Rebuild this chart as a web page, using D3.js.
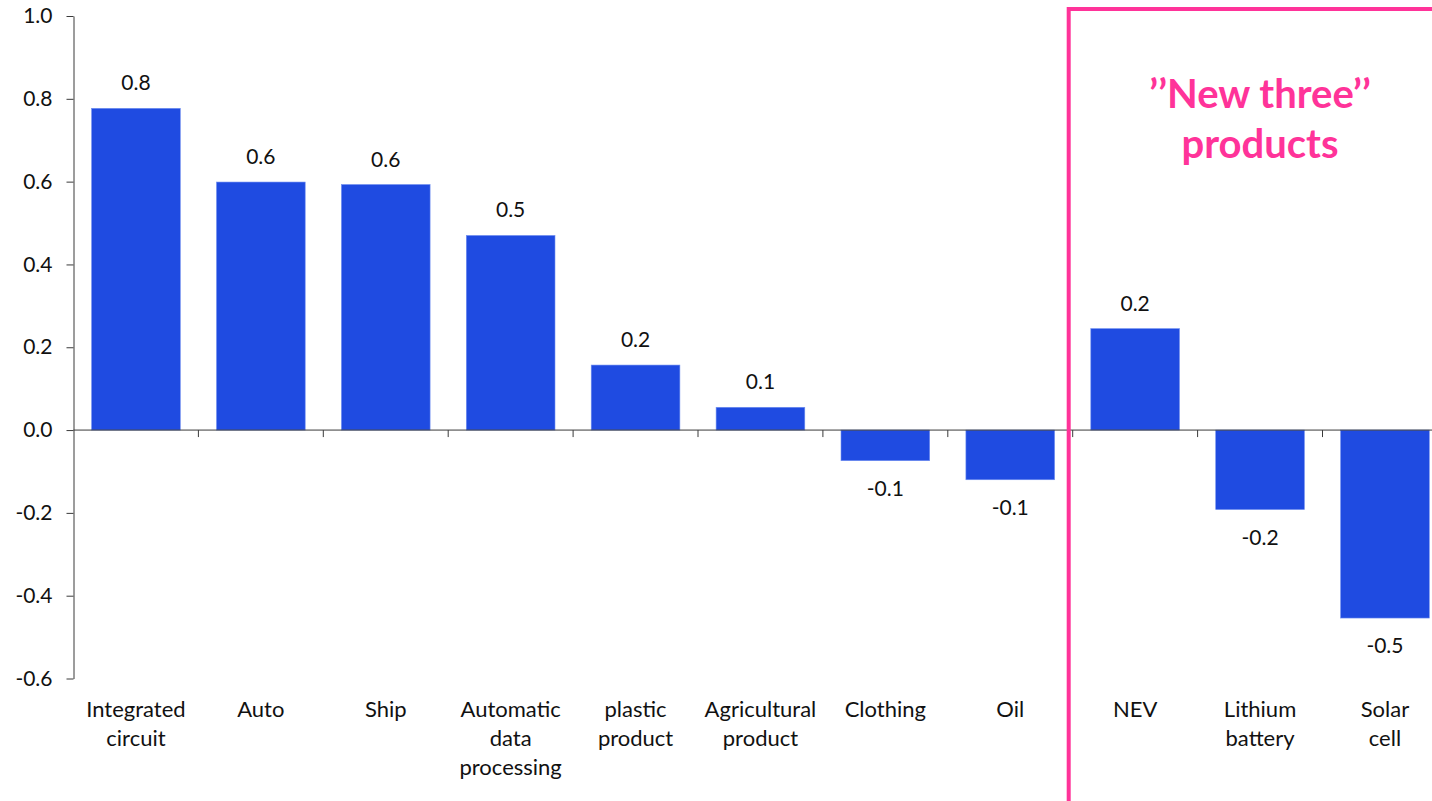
<!DOCTYPE html>
<html>
<head>
<meta charset="utf-8">
<script src="https://cdn.jsdelivr.net/npm/d3@7"></script>
<style>
  html, body { margin: 0; padding: 0; background: #fff; overflow: hidden; }
  svg { display: block; }
  text { font-family: Lato, "Open Sans", sans-serif; fill: #111; }
</style>
</head>
<body>
<svg id="chart" width="1432" height="801"></svg>
<script>
// Product categories, each label split into its display lines
const categories = [
  "Integrated circuit", "Auto", "Ship", "Automatic data processing",
  "plastic product", "Agricultural product", "Clothing", "Oil",
  "NEV", "Lithium battery", "Solar cell"
];
const labelLines = [
  ["Integrated", "circuit"], ["Auto"], ["Ship"], ["Automatic", "data", "processing"],
  ["plastic", "product"], ["Agricultural", "product"], ["Clothing"], ["Oil"],
  ["NEV"], ["Lithium", "battery"], ["Solar", "cell"]
];
const values = [0.777, 0.599, 0.593, 0.470, 0.157, 0.055, -0.074, -0.120, 0.245, -0.192, -0.454];
const yTicks = [-0.6, -0.4, -0.2, 0.0, 0.2, 0.4, 0.6, 0.8, 1.0];
// The last three categories form the highlighted group
const highlighted = ["NEV", "Lithium battery", "Solar cell"];
const highlightTitle = ["\u2019\u2019New three\u2019\u2019", "products"];

const svg = d3.select("#chart");
const plotLeft = 73.5, step = 124.9;
const plotTop = 16, plotBottom = 678.5;

const x = d3.scaleBand()
  .domain(categories)
  .range([plotLeft, plotLeft + step * categories.length])
  .paddingInner(0.29)
  .paddingOuter(0.145);

const y = d3.scaleLinear().domain([-0.6, 1.0]).range([plotBottom, plotTop]);

const axisColor = "#3a3a3a";
// Plain hyphen for negative numbers
const locale = d3.formatLocale({ decimal: ".", thousands: ",", grouping: [3], currency: ["", ""], minus: "-" });
const fmt = locale.format(".1f");

// Bars
svg.append("g").selectAll("rect")
  .data(values)
  .join("rect")
  .attr("x", (d, i) => x(categories[i]))
  .attr("width", x.bandwidth())
  .attr("y", d => y(Math.max(0, d)))
  .attr("height", d => Math.abs(y(d) - y(0)))
  .attr("fill", "#1F4BE1")
  .attr("stroke", "#6f8ef0")
  .attr("stroke-width", 0.6);

// Value labels, rounded to one decimal
svg.append("g").selectAll("text")
  .data(values)
  .join("text")
  .attr("x", (d, i) => x(categories[i]) + x.bandwidth() / 2)
  .attr("y", d => d >= 0 ? y(d) - 18 : y(d) + 35)
  .attr("text-anchor", "middle")
  .attr("font-size", 21)
  .text(d => fmt(d));

// Y axis
const yAxis = d3.axisLeft(y)
  .tickValues(yTicks)
  .tickFormat(fmt)
  .tickSize(7)
  .tickSizeOuter(0)
  .tickPadding(14);
const gy = svg.append("g").attr("transform", `translate(${plotLeft},0)`).call(yAxis);
gy.select(".domain").attr("stroke", axisColor);
gy.selectAll(".tick line").attr("stroke", axisColor);
gy.selectAll(".tick text")
  .attr("font-size", 21)
  .attr("font-family", "Lato, 'Open Sans', sans-serif")
  .attr("fill", "#111");

// Zero baseline with category separator ticks
const boundaries = d3.range(categories.length + 1).map(i => plotLeft + i * x.step());
svg.append("line")
  .attr("x1", plotLeft).attr("x2", boundaries[boundaries.length - 1])
  .attr("y1", y(0)).attr("y2", y(0))
  .attr("stroke", axisColor);
svg.append("g").selectAll("line")
  .data(boundaries.slice(1))
  .join("line")
  .attr("x1", d => d).attr("x2", d => d)
  .attr("y1", y(0)).attr("y2", y(0) + 7)
  .attr("stroke", axisColor);

// Category labels below the plot
const catG = svg.append("g").selectAll("text")
  .data(labelLines)
  .join("text")
  .attr("x", (d, i) => x(categories[i]) + x.bandwidth() / 2)
  .attr("y", 717)
  .attr("text-anchor", "middle")
  .attr("font-size", 22);
catG.selectAll("tspan")
  .data(d => d)
  .join("tspan")
  .attr("x", function () { return d3.select(this.parentNode).attr("x"); })
  .attr("dy", (d, i) => i === 0 ? 0 : 29)
  .text(d => d);

// Highlight frame around the last group
const firstHi = x(highlighted[0]) - (x.step() - x.bandwidth()) / 2;
svg.append("rect")
  .attr("x", firstHi - 4)
  .attr("y", 9)
  .attr("width", 500)
  .attr("height", 900)
  .attr("fill", "none")
  .attr("stroke", "#FF3399")
  .attr("stroke-width", 4);

const hiCenter = (x(highlighted[0]) + x(highlighted[2]) + x.bandwidth()) / 2;
svg.append("text")
  .attr("x", hiCenter)
  .attr("y", 108)
  .attr("text-anchor", "middle")
  .attr("font-size", 40)
  .attr("font-weight", "bold")
  .style("fill", "#FF3399")
  .selectAll("tspan")
  .data(highlightTitle)
  .join("tspan")
  .attr("x", hiCenter)
  .attr("dy", (d, i) => i === 0 ? 0 : 50)
  .text(d => d);
</script>
</body>
</html>
